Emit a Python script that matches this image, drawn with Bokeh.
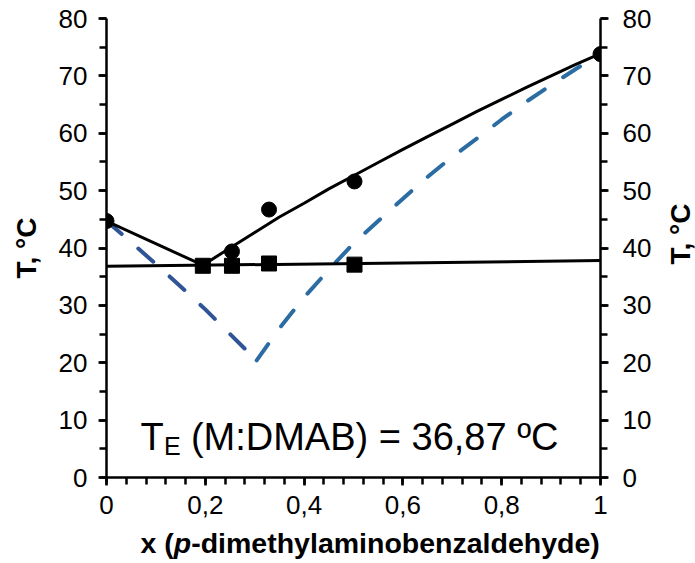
import math
from bokeh.plotting import figure
from bokeh.models import Range1d, LinearAxis, FixedTicker, Label
from bokeh.layouts import row, column
from bokeh.core.properties import value
from bokeh.embed import file_html
from bokeh.resources import INLINE

# ---------------- data ----------------
# experimental liquidus (circles) and solidus / eutectic (squares)
liq_x = [0.0, 0.254, 0.329, 0.502, 1.0]
liq_T = [44.7, 39.4, 46.7, 51.6, 73.8]
sol_x = [0.195, 0.254, 0.329, 0.502]
sol_T = [36.9, 36.9, 37.3, 37.1]

# fitted liquidus (solid black)
fit_left_x = [0.0, 0.195]
fit_left_T = [44.7, 37.0]
fit_right_x = [0.195, 0.25, 0.30, 0.35, 0.40, 0.45, 0.50, 0.55, 0.60, 0.65,
               0.70, 0.75, 0.80, 0.85, 0.90, 0.95, 1.0]
fit_right_T = [37.0, 40.0, 42.7, 45.4, 47.8, 50.3, 52.6, 54.9, 57.2, 59.4,
               61.6, 63.8, 65.9, 68.0, 70.0, 72.0, 73.9]
# eutectic line (solid black)
eut_x = [0.0, 1.0]
eut_T = [36.8, 37.8]

# ideal solubility curves (dashed blue)
ideal_left_x = [0.0, 0.05, 0.10, 0.15, 0.20, 0.25, 0.304]
ideal_left_T = [44.7, 41.0, 37.2, 33.3, 29.3, 25.0, 20.4]
ideal_right_x = [0.304, 0.35, 0.40, 0.45, 0.50, 0.55, 0.60, 0.65, 0.70,
                 0.75, 0.80, 0.85, 0.90, 0.95, 1.0]
ideal_right_T = [20.4, 26.0, 31.4, 36.2, 40.8, 44.7, 48.6, 52.4, 55.9,
                 59.1, 62.4, 65.5, 68.4, 71.2, 73.8]

x_ticks = [0.0, 0.2, 0.4, 0.6, 0.8, 1.0]
x_tick_labels = ["0", "0,2", "0,4", "0,6", "0,8", "1"]
x_minor_ticks = [0.0, 0.04, 0.08, 0.12, 0.16, 0.2, 0.24, 0.28, 0.32, 0.36,
                 0.4, 0.44, 0.48, 0.52, 0.56, 0.6, 0.64, 0.68, 0.72, 0.76,
                 0.8, 0.84, 0.88, 0.92, 0.96, 1.0]
y_ticks = [0, 10, 20, 30, 40, 50, 60, 70, 80]
y_minor_ticks = [0, 5, 10, 15, 20, 25, 30, 35, 40, 45, 50, 55, 60, 65, 70,
                 75, 80]

y_title = "T, °C"
x_title_parts = ["x (", "p", "-dimethylaminobenzaldehyde)"]
annot_main = "T"
annot_sub = "E"
annot_rest = "(M:DMAB) = 36,87 ºC"

FONT = "Liberation Sans"

MAIN_W, MAIN_H = 654, 527
SIDE_W = 695 - MAIN_W
BOT_H = 563 - MAIN_H

# ---------------- main figure ----------------
p = figure(width=MAIN_W, height=MAIN_H, x_range=Range1d(0, 1),
           y_range=Range1d(0, 80),
           output_backend="svg", toolbar_location=None,
           min_border_left=106, min_border_right=MAIN_W - 601,
           min_border_top=18, min_border_bottom=MAIN_H - 477,
           y_axis_label=y_title)
p.outline_line_color = None
p.xgrid.visible = False
p.ygrid.visible = False
p.background_fill_color = "white"
p.border_fill_color = "white"

right_axis = LinearAxis()
p.add_layout(right_axis, "right")

def style_axis(ax):
    ax.axis_line_width = 2.5
    ax.axis_line_color = "black"
    ax.major_tick_line_width = 2.5
    ax.minor_tick_line_width = 2.5
    ax.major_tick_line_color = "black"
    ax.minor_tick_line_color = "black"
    ax.major_tick_in = 0
    ax.minor_tick_in = 0
    ax.major_tick_out = 8
    ax.minor_tick_out = 7
    ax.major_label_text_font = FONT
    ax.major_label_text_font_size = "26px"
    ax.major_label_text_color = "black"
    ax.axis_label_text_font = FONT
    ax.axis_label_text_font_size = "28px"
    ax.axis_label_text_font_style = "bold"
    ax.axis_label_text_color = "black"

for ax in [p.xaxis[0], p.yaxis[0], right_axis]:
    style_axis(ax)

p.xaxis[0].ticker = FixedTicker(ticks=x_ticks, minor_ticks=x_minor_ticks)
p.xaxis[0].major_label_overrides = dict(zip(x_ticks, x_tick_labels))
p.xaxis[0].major_label_standoff = 10

for ax in [p.yaxis[0], right_axis]:
    ax.ticker = FixedTicker(ticks=y_ticks, minor_ticks=y_minor_ticks)
p.yaxis[0].major_label_standoff = 11
right_axis.major_label_standoff = 14
p.yaxis[0].axis_label_standoff = 14

dash = "20 22"
p.line(ideal_left_x, ideal_left_T, line_color="#2F5597", line_width=4,
       line_dash=dash, line_cap="round")
p.line(ideal_right_x, ideal_right_T, line_color="#2B6CA3", line_width=4,
       line_dash=dash, line_cap="round")

p.line(fit_left_x, fit_left_T, line_color="black", line_width=3)
p.line(fit_right_x, fit_right_T, line_color="black", line_width=3)
p.line(eut_x, eut_T, line_color="black", line_width=3)

p.scatter(liq_x, liq_T, marker="circle", size=15, fill_color="black",
          line_color="black")
p.scatter(sol_x, sol_T, marker="square", size=15, fill_color="black",
          line_color="black")

# annotation T_E (M:DMAB) = 36,87 ºC
ax0 = 0.0686
ay0 = 7.1
p.add_layout(Label(x=ax0, y=ay0, text=annot_main, text_font=FONT,
                   text_font_size="38px", text_baseline="alphabetic",
                   text_color="black"))
p.add_layout(Label(x=ax0, y=ay0, x_offset=23.5, y_offset=-9, text=annot_sub,
                   text_font=FONT, text_font_size="25px",
                   text_baseline="alphabetic", text_color="black"))
p.add_layout(Label(x=ax0, y=ay0, x_offset=50.5, text=annot_rest,
                   text_font=FONT, text_font_size="38px",
                   text_baseline="alphabetic", text_color="black"))

# ---------------- right-hand axis title (reads bottom to top) ----------------
side = figure(width=SIDE_W, height=MAIN_H, x_range=Range1d(0, SIDE_W),
              y_range=Range1d(0, MAIN_H), output_backend="svg",
              toolbar_location=None, min_border=0,
              x_axis_type=None, y_axis_type=None)
side.outline_line_color = None
side.background_fill_color = "white"
side.border_fill_color = "white"
side.text(x=[680 - MAIN_W], y=[MAIN_H - 247.5], text=[y_title],
          angle=math.pi / 2, text_align="center", text_baseline="middle",
          text_font=value(FONT), text_font_size=value("28px"),
          text_font_style="bold", text_color="black")

# ---------------- x axis title with italic p ----------------
bottom = figure(width=695, height=BOT_H, x_range=Range1d(0, 695),
                y_range=Range1d(0, BOT_H), output_backend="svg",
                toolbar_location=None, min_border=0,
                x_axis_type=None, y_axis_type=None)
bottom.outline_line_color = None
bottom.background_fill_color = "white"
bottom.border_fill_color = "white"
tx = 140
ty = 21
bottom.add_layout(Label(x=tx, y=ty, text=x_title_parts[0], text_font=FONT,
                        text_font_size="28.5px", text_font_style="bold",
                        text_baseline="alphabetic", text_color="black"))
bottom.add_layout(Label(x=tx, y=ty, x_offset=33.3, text=x_title_parts[1],
                        text_font=FONT, text_font_size="28.5px",
                        text_font_style="bold italic",
                        text_baseline="alphabetic", text_color="black"))
bottom.add_layout(Label(x=tx, y=ty, x_offset=50.7, text=x_title_parts[2],
                        text_font=FONT, text_font_size="28.5px",
                        text_font_style="bold",
                        text_baseline="alphabetic", text_color="black"))

layout = column(row(p, side, spacing=0), bottom, spacing=0)

open("out.html", "w").write(file_html(layout, INLINE))
